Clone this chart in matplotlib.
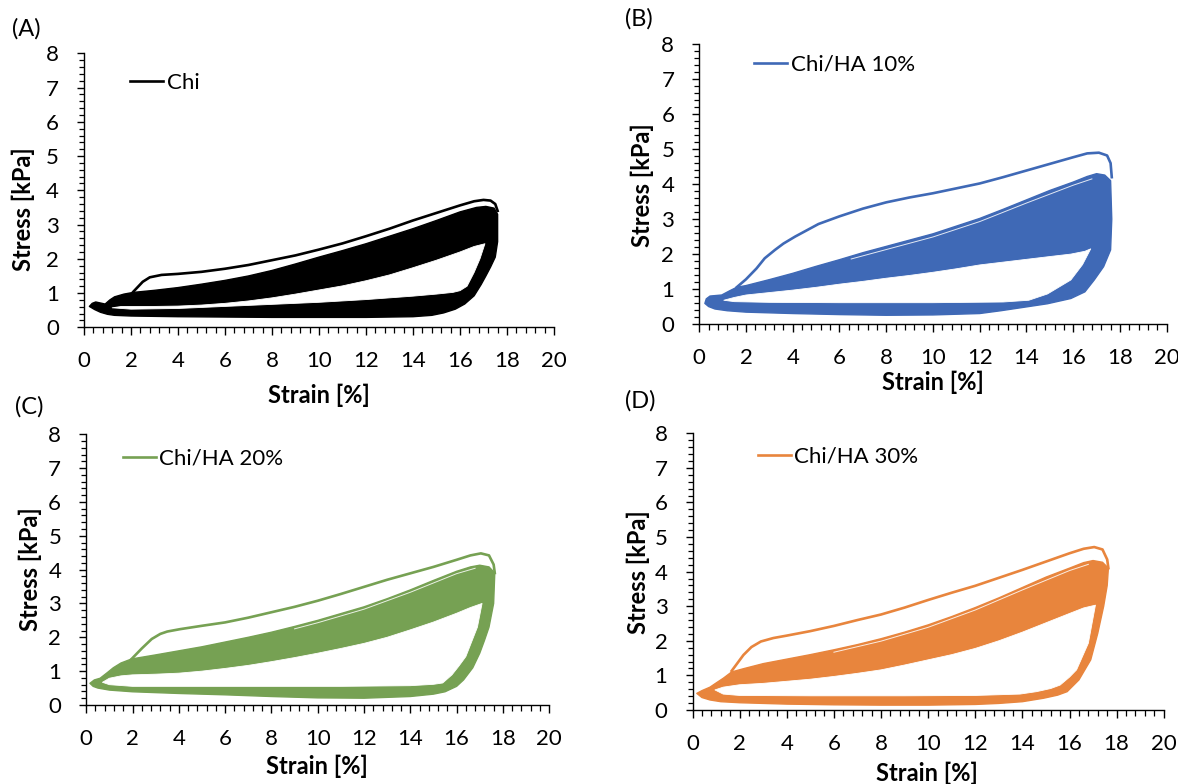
import matplotlib
matplotlib.use("Agg")
import matplotlib.pyplot as plt
from matplotlib.ticker import MultipleLocator

plt.rcParams['font.family'] = ['Lato', 'DejaVu Sans']

# ---------------- data (strain %, stress kPa) ----------------
# first loading cycle (thin line), outer edge of the band of later cycles,
# the white gap inside the loop, and the faint gap line under the 2nd cycle

A_FIRST = [(2.1, 1.04), (2.5, 1.33), (2.8, 1.46), (3.3, 1.53), (4.0, 1.56), (5.0, 1.62),
           (6.0, 1.71), (7.0, 1.82), (8.0, 1.96), (9.0, 2.1), (10.0, 2.27), (11.0, 2.45),
           (12.0, 2.66), (13.0, 2.88), (14.0, 3.12), (15.0, 3.34), (16.0, 3.56), (16.6, 3.68),
           (17.0, 3.72), (17.3, 3.7), (17.5, 3.6), (17.6, 3.4)]
A_OUTER_TOP = [(0.23, 0.61), (0.35, 0.7), (0.5, 0.74), (0.9, 0.68), (1.1, 0.8), (1.3, 0.89),
               (1.7, 0.97), (2.1, 1.02), (3.0, 1.08), (4.0, 1.16), (5.0, 1.26), (6.0, 1.37),
               (7.0, 1.5), (8.0, 1.66), (9.0, 1.85), (10.0, 2.05), (11.0, 2.24), (12.0, 2.44),
               (13.0, 2.66), (14.0, 2.88), (15.0, 3.12), (16.0, 3.37), (16.7, 3.5), (17.1, 3.53),
               (17.45, 3.48), (17.6, 3.3)]
A_OUTER_BOT = [(0.23, 0.61), (0.45, 0.52), (0.7, 0.44), (1.0, 0.38), (1.3, 0.35), (2.0, 0.33),
               (4.0, 0.31), (8.0, 0.29), (12.0, 0.29), (14.0, 0.31), (14.8, 0.35), (15.3, 0.42),
               (15.8, 0.53), (16.2, 0.68), (16.6, 0.92), (16.9, 1.25), (17.1, 1.5), (17.3, 1.76),
               (17.5, 2.05), (17.6, 2.5), (17.6, 3.3)]
A_HOLE_TOP = [(1.2, 0.57), (1.6, 0.61), (2.0, 0.61), (3.0, 0.61), (4.0, 0.62), (5.0, 0.65),
              (6.0, 0.7), (7.0, 0.77), (8.0, 0.86), (9.0, 0.97), (10.0, 1.09), (11.0, 1.21),
              (12.0, 1.36), (13.0, 1.53), (14.0, 1.74), (15.0, 1.96), (16.0, 2.2), (16.6, 2.36),
              (17.06, 2.44)]
A_HOLE_BOT = [(1.2, 0.57), (2.0, 0.53), (4.0, 0.55), (6.0, 0.61), (8.0, 0.67), (10.0, 0.73),
              (12.0, 0.81), (14.0, 0.91), (15.0, 0.97), (15.7, 1.02), (16.0, 1.07), (16.3, 1.2),
              (16.6, 1.6), (16.85, 2.0), (17.06, 2.44)]
A_GAP = []

B_FIRST = [(1.6, 1.05), (2.0, 1.28), (2.45, 1.59), (2.8, 1.88), (3.24, 2.12), (3.6, 2.3),
           (4.1, 2.5), (5.1, 2.86), (6.0, 3.08), (7.0, 3.3), (8.0, 3.48), (9.0, 3.62),
           (10.0, 3.74), (11.0, 3.88), (12.0, 4.02), (13.0, 4.2), (14.0, 4.39), (15.0, 4.58),
           (16.0, 4.77), (16.6, 4.88), (17.1, 4.9), (17.45, 4.82), (17.6, 4.6), (17.65, 4.2)]
B_OUTER_TOP = [(0.24, 0.59), (0.3, 0.72), (0.46, 0.8), (0.96, 0.83), (1.3, 0.95), (1.6, 1.05),
               (2.0, 1.1), (3.0, 1.27), (4.0, 1.45), (5.0, 1.65), (6.0, 1.84), (7.0, 2.04),
               (8.0, 2.22), (9.0, 2.4), (10.0, 2.58), (11.0, 2.8), (12.0, 3.02), (13.0, 3.28),
               (14.0, 3.55), (15.0, 3.82), (16.0, 4.06), (16.6, 4.22), (17.0, 4.3), (17.35, 4.26),
               (17.6, 4.1)]
B_OUTER_BOT = [(0.24, 0.59), (0.4, 0.5), (0.67, 0.43), (1.2, 0.38), (2.0, 0.34), (4.0, 0.3),
               (6.0, 0.27), (8.0, 0.25), (10.0, 0.26), (12.0, 0.3), (12.9, 0.38), (14.0, 0.49),
               (14.9, 0.58), (15.9, 0.73), (16.5, 0.92), (16.9, 1.26), (17.3, 1.64), (17.6, 2.12),
               (17.65, 3.0), (17.6, 4.1)]
B_HOLE_TOP = [(1.05, 0.68), (1.5, 0.76), (2.0, 0.83), (3.0, 0.9), (4.0, 0.97), (5.0, 1.05),
              (6.0, 1.14), (7.0, 1.22), (8.0, 1.31), (9.0, 1.39), (10.0, 1.48), (11.0, 1.58),
              (12.0, 1.69), (13.0, 1.77), (14.0, 1.85), (15.0, 1.93), (15.9, 2.0), (16.5, 2.08),
              (16.75, 2.15)]
B_HOLE_BOT = [(1.05, 0.68), (1.5, 0.64), (3.0, 0.62), (6.0, 0.61), (10.0, 0.61), (13.0, 0.63),
              (14.1, 0.68), (14.9, 0.86), (15.9, 1.26), (16.4, 1.7), (16.75, 2.15)]
B_GAP = [(6.5, 1.86), (8.0, 2.13), (10.0, 2.49), (12.0, 2.93), (14.0, 3.46), (16.0, 3.97),
         (16.8, 4.15)]

C_FIRST = [(1.96, 1.36), (2.4, 1.67), (2.83, 1.95), (3.2, 2.1), (3.5, 2.17), (4.05, 2.24),
           (5.0, 2.34), (6.0, 2.44), (7.0, 2.58), (8.0, 2.74), (9.0, 2.9), (10.0, 3.08),
           (11.0, 3.28), (12.0, 3.49), (13.0, 3.7), (14.0, 3.89), (15.0, 4.08), (16.0, 4.29),
           (16.6, 4.42), (17.05, 4.48), (17.4, 4.42), (17.6, 4.15), (17.65, 3.9)]
C_OUTER_TOP = [(0.16, 0.64), (0.35, 0.74), (0.6, 0.79), (0.9, 0.95), (1.17, 1.1), (1.5, 1.24),
               (1.96, 1.36), (3.0, 1.48), (4.0, 1.6), (5.0, 1.72), (6.0, 1.86), (7.0, 2.0),
               (8.0, 2.15), (9.0, 2.32), (10.0, 2.5), (11.0, 2.7), (12.0, 2.9), (13.0, 3.14),
               (14.0, 3.4), (15.0, 3.68), (16.0, 3.95), (16.6, 4.08), (17.0, 4.13), (17.4, 4.08),
               (17.65, 3.9)]
C_OUTER_BOT = [(0.16, 0.64), (0.3, 0.55), (0.5, 0.5), (1.0, 0.44), (2.0, 0.39), (4.0, 0.34),
               (6.0, 0.3), (8.0, 0.25), (10.0, 0.21), (12.0, 0.2), (14.0, 0.25), (15.0, 0.32),
               (15.5, 0.39), (16.0, 0.55), (16.3, 0.74), (16.7, 1.1), (17.0, 1.53), (17.2, 1.9),
               (17.4, 2.3), (17.6, 3.0), (17.65, 3.9)]
C_HOLE_TOP = [(0.7, 0.67), (1.0, 0.79), (1.5, 0.86), (2.0, 0.89), (3.0, 0.91), (4.0, 0.94),
              (5.0, 1.0), (6.0, 1.08), (7.0, 1.17), (8.0, 1.28), (9.0, 1.4), (10.0, 1.53),
              (11.0, 1.67), (12.0, 1.82), (13.0, 2.0), (14.0, 2.22), (15.0, 2.45), (16.0, 2.71),
              (16.6, 2.88), (17.1, 3.0)]
C_HOLE_BOT = [(0.7, 0.67), (1.0, 0.6), (2.0, 0.55), (5.0, 0.55), (8.0, 0.55), (11.0, 0.55),
              (14.0, 0.57), (15.0, 0.61), (15.4, 0.65), (15.8, 0.89), (16.1, 1.15), (16.4, 1.43),
              (16.9, 2.3), (17.1, 3.0)]
C_GAP = [(9.0, 2.25), (10.0, 2.43), (12.0, 2.83), (14.0, 3.33), (16.0, 3.88), (16.8, 4.04)]

D_FIRST = [(1.66, 1.13), (1.9, 1.35), (2.16, 1.59), (2.5, 1.82), (2.9, 1.98), (3.43, 2.08),
           (4.0, 2.15), (5.0, 2.28), (6.0, 2.43), (7.0, 2.6), (8.0, 2.76), (9.0, 2.96),
           (10.0, 3.18), (11.0, 3.39), (12.0, 3.59), (13.0, 3.82), (14.0, 4.05), (15.0, 4.29),
           (16.0, 4.53), (16.6, 4.66), (17.05, 4.71), (17.4, 4.64), (17.6, 4.35), (17.65, 4.1)]
D_OUTER_TOP = [(0.18, 0.48), (0.4, 0.56), (0.74, 0.66), (1.0, 0.78), (1.31, 0.92), (1.66, 1.1),
               (2.2, 1.2), (3.0, 1.34), (4.0, 1.47), (5.0, 1.6), (6.0, 1.74), (7.0, 1.89),
               (8.0, 2.06), (9.0, 2.25), (10.0, 2.46), (11.0, 2.7), (12.0, 2.96), (13.0, 3.24),
               (14.0, 3.54), (15.0, 3.84), (16.0, 4.1), (16.6, 4.26), (17.0, 4.32), (17.4, 4.27),
               (17.65, 4.1)]
D_OUTER_BOT = [(0.18, 0.48), (0.4, 0.36), (0.74, 0.29), (1.2, 0.24), (2.0, 0.21), (4.0, 0.17),
               (6.0, 0.15), (8.0, 0.14), (10.0, 0.14), (12.0, 0.16), (13.0, 0.19), (14.0, 0.24),
               (14.9, 0.34), (15.5, 0.43), (15.9, 0.53), (16.4, 0.87), (16.9, 1.45), (17.2, 2.22),
               (17.45, 3.0), (17.6, 3.6), (17.65, 4.1)]
D_HOLE_TOP = [(0.95, 0.58), (1.3, 0.66), (2.0, 0.73), (3.0, 0.77), (4.0, 0.83), (5.0, 0.89),
              (6.0, 0.97), (7.0, 1.06), (8.0, 1.16), (9.0, 1.3), (10.0, 1.45), (11.0, 1.6),
              (12.0, 1.78), (13.0, 2.0), (14.0, 2.25), (15.0, 2.52), (16.0, 2.79), (16.6, 2.95),
              (17.1, 3.03)]
D_HOLE_BOT = [(0.95, 0.58), (1.3, 0.46), (2.0, 0.42), (5.0, 0.41), (9.0, 0.41), (12.0, 0.42),
              (13.9, 0.46), (14.6, 0.53), (15.2, 0.62), (15.6, 0.72), (16.0, 0.95), (16.3, 1.16),
              (16.8, 1.93), (17.1, 3.03)]
D_GAP = [(6.0, 1.67), (8.0, 1.99), (10.0, 2.39), (12.0, 2.89), (14.0, 3.47), (16.0, 4.03),
         (16.8, 4.21)]

LABELS = ["Chi", "Chi/HA 10%", "Chi/HA 20%", "Chi/HA 30%"]
COLORS = ["#000000", "#3f69b6", "#76a153", "#e8853d"]
LETTERS = ["(A)", "(B)", "(C)", "(D)"]

FIRST = [A_FIRST, B_FIRST, C_FIRST, D_FIRST]
OUTER_TOP = [A_OUTER_TOP, B_OUTER_TOP, C_OUTER_TOP, D_OUTER_TOP]
OUTER_BOT = [A_OUTER_BOT, B_OUTER_BOT, C_OUTER_BOT, D_OUTER_BOT]
HOLE_TOP = [A_HOLE_TOP, B_HOLE_TOP, C_HOLE_TOP, D_HOLE_TOP]
HOLE_BOT = [A_HOLE_BOT, B_HOLE_BOT, C_HOLE_BOT, D_HOLE_BOT]
GAP = [A_GAP, B_GAP, C_GAP, D_GAP]

AX_RECTS = [(0.0713, 0.5825, 0.399, 0.3495),
            (0.5936, 0.5867, 0.3968, 0.3568),
            (0.0732, 0.1008, 0.393, 0.3453),
            (0.5879, 0.0944, 0.400, 0.3530)]
LETTER_POS = [(0.0225, 0.963), (0.5425, 0.976), (0.0245, 0.481), (0.5435, 0.489)]
LEGEND_POS = [(0.098, 0.892), (0.117, 0.926), (0.079, 0.911), (0.138, 0.915)]
YLABEL_POS = [(-0.129, 0.432), (-0.121, 0.497), (-0.121, 0.502), (-0.115, 0.499)]
XLABEL_POS = [(0.499, -0.247), (0.5, -0.207), (0.498, -0.228), (0.498, -0.229)]

fig = plt.figure(figsize=(11.78, 7.84), dpi=100)

for i in range(4):
    ax = fig.add_axes(AX_RECTS[i])
    c = COLORS[i]

    outer = OUTER_TOP[i] + OUTER_BOT[i][::-1]
    hole = HOLE_TOP[i] + HOLE_BOT[i][::-1]
    ax.fill([p[0] for p in outer], [p[1] for p in outer], color=c, lw=1.0, joinstyle="round")
    ax.fill([p[0] for p in hole], [p[1] for p in hole], color="white", lw=0.6, joinstyle="round")
    if GAP[i]:
        ax.plot([p[0] for p in GAP[i]], [p[1] for p in GAP[i]], color="white", lw=0.7, alpha=0.85)
    ax.plot([p[0] for p in FIRST[i]], [p[1] for p in FIRST[i]], color=c, lw=1.9,
            solid_joinstyle="round", label=LABELS[i])

    ax.set_xlim(0, 20)
    ax.set_ylim(0, 8)
    ax.xaxis.set_major_locator(MultipleLocator(2))
    ax.xaxis.set_minor_locator(MultipleLocator(0.4))
    ax.yaxis.set_major_locator(MultipleLocator(1))
    ax.yaxis.set_minor_locator(MultipleLocator(0.2))
    ax.spines["top"].set_visible(False)
    ax.spines["right"].set_visible(False)
    for s in ("left", "bottom"):
        ax.spines[s].set_linewidth(1.0)
    ax.tick_params(which="both", direction="out", width=1.0, labelsize=16)
    ax.tick_params(axis="x", which="major", length=6, pad=11)
    ax.tick_params(axis="x", which="minor", length=4.5, width=0.9)
    ax.tick_params(axis="y", which="major", length=5, pad=13)
    ax.tick_params(axis="y", which="minor", length=3.6, width=0.9)

    ax.text(*XLABEL_POS[i], "Strain [%]", transform=ax.transAxes, ha="center", va="center",
            fontsize=17, fontweight="bold")
    ax.text(*YLABEL_POS[i], "Stress [kPa]", transform=ax.transAxes, ha="center", va="center",
            rotation=90, fontsize=17, fontweight="bold")

    ax.legend(loc="center left", bbox_to_anchor=LEGEND_POS[i], frameon=False, fontsize=16,
              borderpad=0, borderaxespad=0, handlelength=1.5, handletextpad=0.15)

    fig.text(*LETTER_POS[i], LETTERS[i], ha="center", va="center", fontsize=17)

fig.savefig("out.png", dpi=100)
